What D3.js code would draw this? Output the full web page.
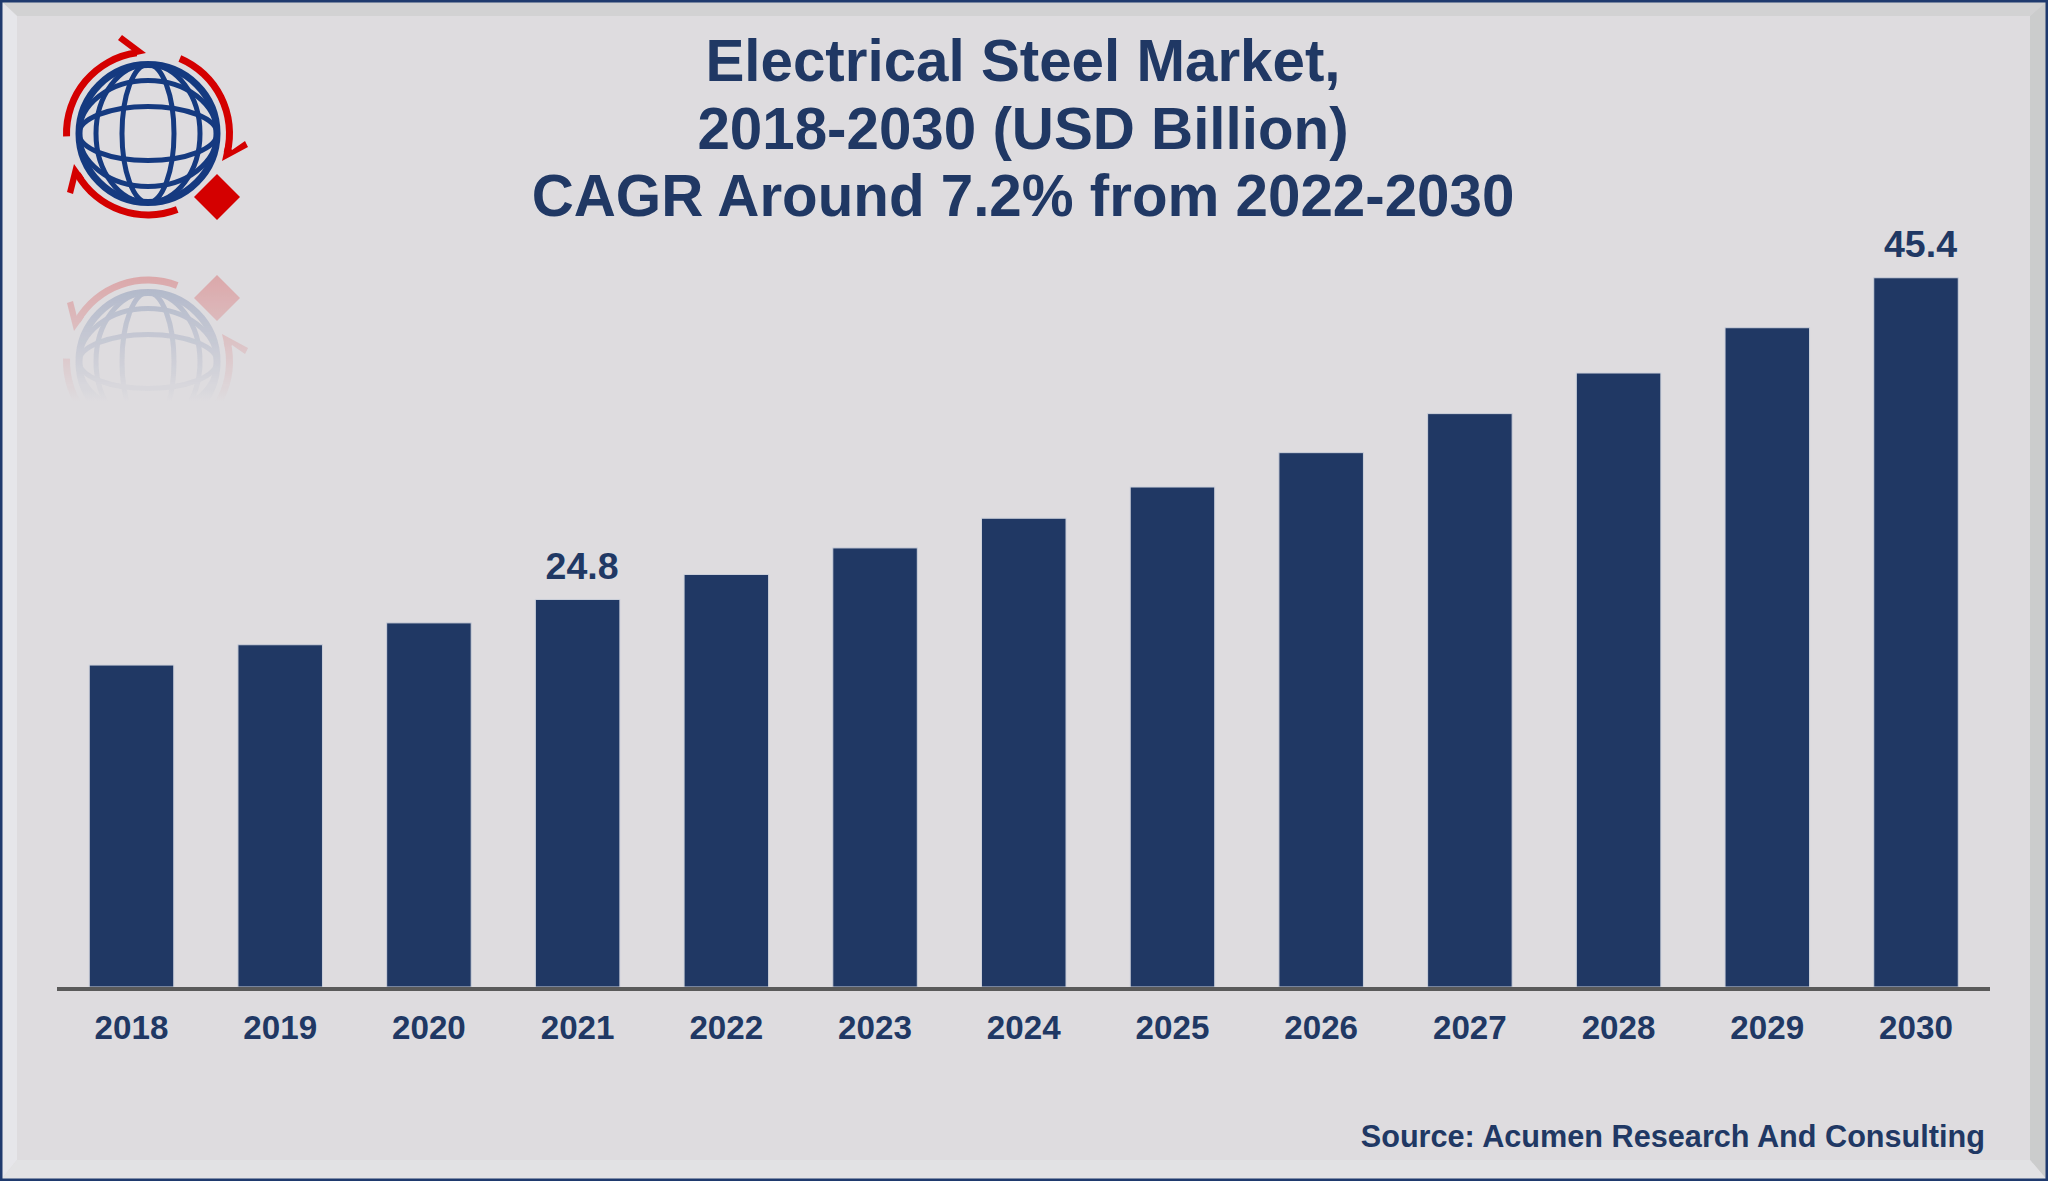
<!DOCTYPE html>
<html>
<head>
<meta charset="utf-8">
<script src="https://cdn.jsdelivr.net/npm/d3@7"></script>
<style>
  html, body { margin: 0; padding: 0; background: #dedcdf; overflow: hidden; }
  svg { display: block; }
  text { font-family: "Liberation Sans", Arial, sans-serif; font-weight: bold; fill: #203864; }
</style>
</head>
<body>
<div id="chart"></div>
<script>
const years = ["2018", "2019", "2020", "2021", "2022", "2023", "2024", "2025", "2026", "2027", "2028", "2029", "2030"];
const marketValues = [20.6, 21.9, 23.3, 24.8, 26.4, 28.1, 30.0, 32.0, 34.2, 36.7, 39.3, 42.2, 45.4];
const labelledYears = ["2021", "2030"];
const titleLines = ["Electrical Steel Market,", "2018-2030 (USD Billion)", "CAGR Around 7.2% from 2022-2030"];
const sourceText = "Source: Acumen Research And Consulting";

const width = 2048, height = 1181;
const navy = "#203864";

const svg = d3.select("#chart").append("svg")
    .attr("width", width)
    .attr("height", height);

const defs = svg.append("defs");

// bevelled picture frame
const inner = { l: 17, t: 16, r: 2030, b: 1160 };
svg.append("rect").attr("width", width).attr("height", height).attr("fill", "#dedcdf");
const bevels = [
    { fill: "#d2d2d3", pts: [[0, 0], [width, 0], [inner.r, inner.t], [inner.l, inner.t]] },
    { fill: "#e6e6ea", pts: [[0, 0], [inner.l, inner.t], [inner.l, inner.b], [0, height]] },
    { fill: "#cbcccc", pts: [[width, 0], [width, height], [inner.r, inner.b], [inner.r, inner.t]] },
    { fill: "#e2e2e4", pts: [[0, height], [inner.l, inner.b], [inner.r, inner.b], [width, height]] }
];
svg.selectAll("polygon.bevel")
    .data(bevels)
    .join("polygon")
    .attr("class", "bevel")
    .attr("points", d => d.pts.join(" "))
    .attr("fill", d => d.fill);
svg.append("rect")
    .attr("x", 1.25).attr("y", 1.25)
    .attr("width", width - 2.5).attr("height", height - 2.5)
    .attr("fill", "none")
    .attr("stroke", "#1f3a6e")
    .attr("stroke-width", 2.5);

// logo, drawn once and reused for the faded reflection
const logo = defs.append("g").attr("id", "logo");
const cx = 148, cy = 133.5;
const globe = logo.append("g")
    .attr("transform", `translate(${cx},${cy})`)
    .attr("fill", "none")
    .attr("stroke", "#153a80")
    .attr("stroke-width", 5);
globe.append("circle").attr("r", 69).attr("stroke-width", 7);
[[26, 69], [52, 69], [69, 27], [69, 53]].forEach(([rx, ry]) => {
    globe.append("ellipse").attr("rx", rx).attr("ry", ry);
});
const ringArc = d3.arc().innerRadius(78).outerRadius(85);
const rad = Math.PI / 180;
const rings = logo.append("g").attr("fill", "#d40000");
[[-92, -8], [23, 104], [159, 240]].forEach(([a0, a1]) => {
    rings.append("path")
        .attr("transform", `translate(${cx},${cy})`)
        .attr("d", ringArc({ startAngle: a0 * rad, endAngle: a1 * rad }));
});
const heads = [
    [[146, 53], [122, 35], [118, 40], [134, 52], [132, 56]],
    [[222, 161], [226, 143], [232, 150], [245, 141], [248, 147]],
    [[74, 164], [67, 192], [73, 194], [77, 178], [84, 178]],
    [[217, 174], [240, 197], [217, 220], [194, 197]]
];
rings.selectAll("polygon")
    .data(heads)
    .join("polygon")
    .attr("points", d => d.join(" "));

svg.append("use").attr("href", "#logo");

const fade = defs.append("linearGradient")
    .attr("id", "fade")
    .attr("gradientUnits", "userSpaceOnUse")
    .attr("x1", 0).attr("y1", 275)
    .attr("x2", 0).attr("y2", 402);
fade.append("stop").attr("offset", 0).attr("stop-color", "#fff").attr("stop-opacity", 0.24);
fade.append("stop").attr("offset", 1).attr("stop-color", "#fff").attr("stop-opacity", 0);
defs.append("mask")
    .attr("id", "fadeMask")
    .attr("maskUnits", "userSpaceOnUse")
    .attr("x", 0).attr("y", 0).attr("width", width).attr("height", height)
    .append("rect")
    .attr("width", width).attr("height", height)
    .attr("fill", "url(#fade)");
svg.append("g")
    .attr("mask", "url(#fadeMask)")
    .append("use")
    .attr("href", "#logo")
    .attr("transform", "translate(0,495) scale(1,-1)");

// title
svg.selectAll("text.title")
    .data(titleLines)
    .join("text")
    .attr("class", "title")
    .attr("x", 1023)
    .attr("y", (d, i) => 81 + i * 67.5)
    .attr("text-anchor", "middle")
    .attr("font-size", 58.3)
    .text(d => d);

// scales
const x = d3.scaleBand()
    .domain(years)
    .range([24.8, 2022.7])
    .padding(0.435);
const y = d3.scaleLinear()
    .domain([0, d3.max(marketValues)])
    .range([987, 278]);

const data = years.map((year, i) => ({ year: year, value: marketValues[i] }));

// bars
svg.selectAll("rect.bar")
    .data(data)
    .join("rect")
    .attr("class", "bar")
    .attr("x", d => x(d.year) - 0.25)
    .attr("y", d => y(d.value) - 0.25)
    .attr("width", x.bandwidth() + 0.5)
    .attr("height", d => y(0) - y(d.value) + 0.25)
    .attr("fill", navy)
    .attr("stroke", "#cdd1db")
    .attr("stroke-width", 1);

// baseline is wider than the band range, so it's drawn by hand
svg.append("rect")
    .attr("x", 57).attr("y", y(0))
    .attr("width", 1933).attr("height", 4)
    .attr("fill", "#5a5a5a");

// year labels
const axis = svg.append("g")
    .attr("transform", `translate(0,${y(0)})`)
    .call(d3.axisBottom(x).tickSize(0).tickPadding(28.5));
axis.select(".domain").remove();
axis.selectAll("text")
    .attr("font-size", 33.2)
    .attr("font-family", null)
    .attr("fill", null)
    .attr("dy", "0.71em");
axis.attr("font-family", null).attr("font-size", null);

// value labels
svg.selectAll("text.value")
    .data(data.filter(d => labelledYears.includes(d.year)))
    .join("text")
    .attr("class", "value")
    .attr("x", d => x(d.year) + x.bandwidth() / 2 + 4.5)
    .attr("y", d => y(d.value) - 21)
    .attr("text-anchor", "middle")
    .attr("font-size", 37.5)
    .text(d => d3.format(".1f")(d.value));

// source
svg.append("text")
    .attr("x", 1985)
    .attr("y", 1147)
    .attr("text-anchor", "end")
    .attr("font-size", 30.65)
    .text(sourceText);
</script>
</body>
</html>
